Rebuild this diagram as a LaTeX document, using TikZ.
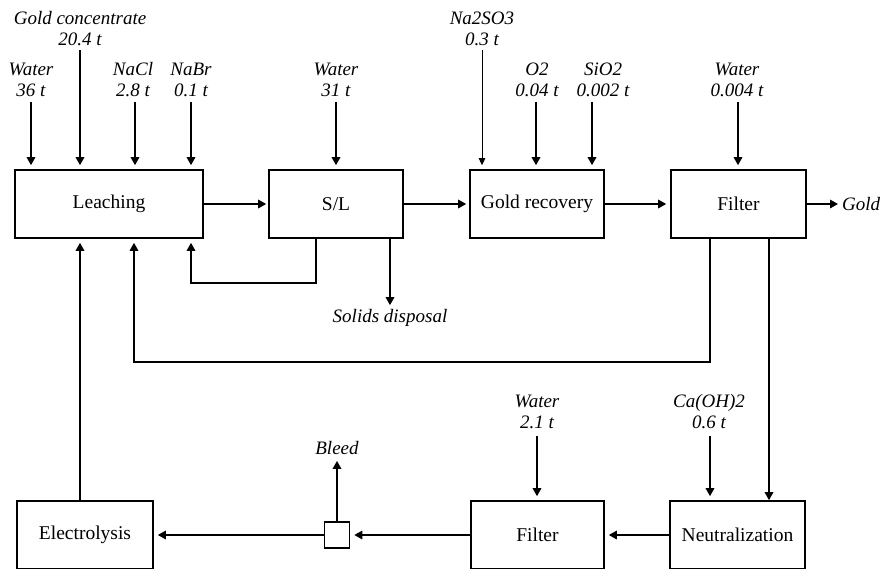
\documentclass[tikz,border=0pt]{standalone}
\usepackage{fontspec}
\setmainfont{Liberation Serif}
\usetikzlibrary{arrows.meta}
\begin{document}
\begin{tikzpicture}[x=1pt,y=-1pt,
  box/.style={draw,line width=1.6pt,minimum width=#1,minimum height=68pt,inner sep=0pt,font=\fontsize{19.5}{22}\selectfont},
  lab/.style={inner sep=0pt,align=center,font=\fontsize{19}{21}\selectfont\itshape},
  arr/.style={line width=1.6pt,-{Triangle[length=8pt,width=8.5pt]},shorten >=4pt},
  thinarr/.style={line width=0.8pt,-{Triangle[length=7pt,width=6.5pt]},shorten >=4pt}]
\clip (0,0) rectangle (883,568);
% process boxes
\node[box=188pt] (leach) at (109,204) {Leaching};
\node[box=134pt] (sl) at (336,204) {S/L};
\node[box=134pt] (rec) at (537,204) {Gold recovery};
\node[box=135pt] (filt1) at (738.5,204) {Filter};
\node[box=136pt] (elec) at (85,535) {Electrolysis};
\node[draw,line width=1.6pt,minimum width=25pt,minimum height=26pt,inner sep=0pt] (sq) at (337,535) {};
\node[box=133pt] (filt2) at (537.5,535) {Filter};
\node[box=135pt] (neut) at (737.5,535) {Neutralization};
% labels
\node[lab] (lw1) at (31,80) {Water\\36 t};
\node[lab] (lgc) at (80,29) {Gold concentrate\\20.4 t};
\node[lab] (lnacl) at (133,80) {NaCl\\2.8 t};
\node[lab] (lnabr) at (191,80) {NaBr\\0.1 t};
\node[lab] (lw2) at (336,80) {Water\\31 t};
\node[lab] (lna) at (482,29) {Na2SO3\\0.3 t};
\node[lab] (lo2) at (537,80) {O2\\0.04 t};
\node[lab] (lsio) at (603,80) {SiO2\\0.002 t};
\node[lab] (lw3) at (737,80) {Water\\0.004 t};
\node[lab,anchor=west] (lgold) at (842,204) {Gold};
\node[lab] (lsol) at (390,318) {Solids disposal};
\node[lab] (lbleed) at (337,448) {Bleed};
\node[lab] (lw4) at (537,412) {Water\\2.1 t};
\node[lab] (lca) at (709,412) {Ca(OH)2\\0.6 t};
% input arrow tops
\coordinate (i1) at (31,102);
\coordinate (i2) at (80,50);
\coordinate (i3) at (135,102);
\coordinate (i4) at (191,102);
\coordinate (i5) at (336,102);
\coordinate (i6) at (482,50);
\coordinate (i7) at (536,102);
\coordinate (i8) at (592,102);
\coordinate (i9) at (738,102);
\coordinate (i10) at (537,436);
\coordinate (i11) at (710,436);
\draw[arr] (i1) -- (i1 |- leach.north);
\draw[arr] (i2) -- (i2 |- leach.north);
\draw[arr] (i3) -- (i3 |- leach.north);
\draw[arr] (i4) -- (i4 |- leach.north);
\draw[arr] (i5) -- (i5 |- sl.north);
\draw[thinarr] (i6) -- (i6 |- rec.north);
\draw[arr] (i7) -- (i7 |- rec.north);
\draw[arr] (i8) -- (i8 |- rec.north);
\draw[arr] (i9) -- (i9 |- filt1.north);
\draw[arr] (i10) -- (i10 |- filt2.north);
\draw[arr] (i11) -- (i11 |- neut.north);
% main flow
\draw[arr,shorten >=2pt] (leach) -- (sl);
\draw[arr,shorten >=3pt] (sl) -- (rec);
\draw[arr] (rec) -- (filt1);
\draw[arr] (filt1) -- (lgold);
% recycles
\coordinate (slr) at (316,283);
\coordinate (lr1) at (191,283);
\draw[arr] (slr |- sl.south) -- (slr) -- (lr1) -- (lr1 |- leach.south);
\coordinate (sd) at (390,0);
\draw[arr] (sd |- sl.south) -- (sd |- lsol.north);
\coordinate (f1r) at (710,362);
\coordinate (lr2) at (134,362);
\draw[arr] (f1r |- filt1.south) -- (f1r) -- (lr2) -- (lr2 |- leach.south);
\coordinate (nf) at (769,0);
\draw[arr,shorten >=0pt] (nf |- filt1.south) -- (nf |- neut.north);
\coordinate (el) at (80,0);
\draw[arr] (el |- elec.north) -- (el |- leach.south);
% bottom flow
\draw[arr] (neut) -- (filt2);
\draw[arr] (filt2) -- (sq);
\draw[arr] (sq) -- (elec);
\draw[arr,shorten >=6pt] (sq) -- (lbleed);
\end{tikzpicture}
\end{document}
